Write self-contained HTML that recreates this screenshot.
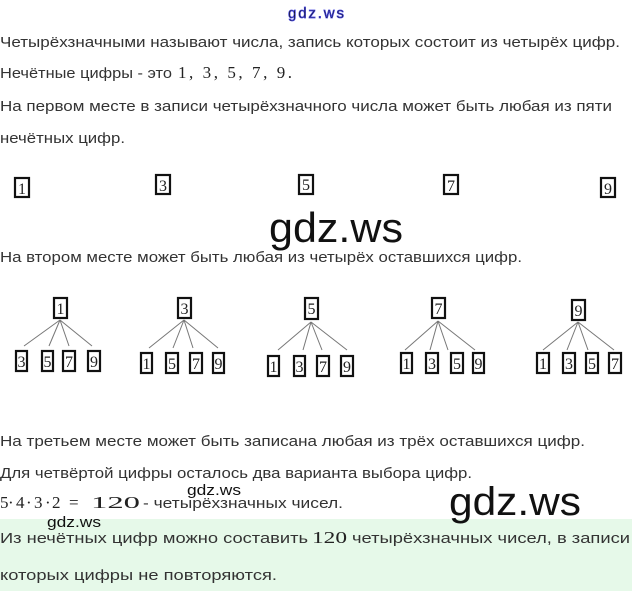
<!DOCTYPE html>
<html><head><meta charset="utf-8"><style>
html,body{margin:0;padding:0;background:#fff;width:632px;height:591px;overflow:hidden}
svg{display:block}
.t{font-family:"Liberation Sans",sans-serif;font-size:15px;fill:#333}
.m{font-family:"Liberation Serif",serif;font-size:17px;fill:#222}
.b{fill:#fff;stroke:#111;stroke-width:2.2}
.d{font-family:"Liberation Serif",serif;font-size:16px;fill:#222;text-anchor:middle}
.l{stroke:#777;stroke-width:1}
.g{font-family:"Liberation Sans","DejaVu Sans",sans-serif;fill:#111}
</style></head><body>
<svg width="632" height="591" viewBox="0 0 632 591" xmlns="http://www.w3.org/2000/svg">
<rect x="0" y="519" width="632" height="72" fill="#e6f9e9"/>
<text x="288" y="18" class="g" font-size="15" fill="#fff" stroke="#4444dd" stroke-width="0.7" textLength="56">gdz.ws</text>
<text x="0" y="47" class="t" textLength="620" lengthAdjust="spacingAndGlyphs">Четырёхзначными называют числа, запись которых состоит из четырёх цифр.</text>
<text x="0" y="78" class="t" textLength="172" lengthAdjust="spacingAndGlyphs">Нечётные цифры - это</text>
<text x="178" y="78" class="m" textLength="114" lengthAdjust="spacing">1, 3, 5, 7, 9.</text>
<text x="0" y="111" class="t" textLength="612" lengthAdjust="spacingAndGlyphs">На первом месте в записи четырёхзначного числа может быть любая из пяти</text>
<text x="0" y="143" class="t" textLength="125" lengthAdjust="spacingAndGlyphs">нечётных цифр.</text>
<g>
<rect class="b" x="15" y="178" width="14" height="19"/><text class="d" x="22" y="194">1</text>
<rect class="b" x="156" y="175" width="14" height="19"/><text class="d" x="163" y="191">3</text>
<rect class="b" x="299" y="175" width="14" height="19"/><text class="d" x="306" y="190">5</text>
<rect class="b" x="444" y="175" width="14" height="19"/><text class="d" x="451" y="191">7</text>
<rect class="b" x="601" y="178" width="14" height="19"/><text class="d" x="608" y="194">9</text>
</g>
<text x="269" y="242" class="g" font-size="42" textLength="134" lengthAdjust="spacingAndGlyphs">gdz.ws</text>
<text x="0" y="262" class="t" textLength="522" lengthAdjust="spacingAndGlyphs">На втором месте может быть любая из четырёх оставшихся цифр.</text>
<g>
<rect class="b" x="54" y="298" width="13" height="20"/><text class="d" x="60.5" y="314">1</text>
<line class="l" x1="60" y1="320" x2="24" y2="346"/><line class="l" x1="60" y1="320" x2="49" y2="346"/><line class="l" x1="60" y1="320" x2="69" y2="346"/><line class="l" x1="60" y1="320" x2="92" y2="346"/>
<rect class="b" x="16" y="351" width="11" height="20"/><text class="d" x="21.5" y="367">3</text>
<rect class="b" x="42" y="351" width="11" height="20"/><text class="d" x="47.5" y="367">5</text>
<rect class="b" x="63" y="351" width="12" height="20"/><text class="d" x="69" y="367">7</text>
<rect class="b" x="88" y="351" width="12" height="20"/><text class="d" x="94" y="367">9</text>
<rect class="b" x="178" y="298" width="13" height="20"/><text class="d" x="184.5" y="314">3</text>
<line class="l" x1="184" y1="320" x2="149" y2="348"/><line class="l" x1="184" y1="320" x2="173" y2="348"/><line class="l" x1="184" y1="320" x2="193" y2="348"/><line class="l" x1="184" y1="320" x2="218" y2="348"/>
<rect class="b" x="141" y="353" width="11" height="20"/><text class="d" x="146.5" y="369">1</text>
<rect class="b" x="166" y="353" width="12" height="20"/><text class="d" x="172" y="369">5</text>
<rect class="b" x="190" y="353" width="12" height="20"/><text class="d" x="196" y="369">7</text>
<rect class="b" x="213" y="353" width="11" height="20"/><text class="d" x="218.5" y="369">9</text>
<rect class="b" x="305" y="298" width="13" height="21"/><text class="d" x="311.5" y="314">5</text>
<line class="l" x1="311" y1="322" x2="278" y2="350"/><line class="l" x1="311" y1="322" x2="303" y2="350"/><line class="l" x1="311" y1="322" x2="322" y2="350"/><line class="l" x1="311" y1="322" x2="347" y2="350"/>
<rect class="b" x="268" y="356" width="11" height="20"/><text class="d" x="273.5" y="372">1</text>
<rect class="b" x="294" y="356" width="11" height="20"/><text class="d" x="299.5" y="372">3</text>
<rect class="b" x="317" y="356" width="12" height="20"/><text class="d" x="323" y="372">7</text>
<rect class="b" x="341" y="356" width="12" height="20"/><text class="d" x="347" y="372">9</text>
<rect class="b" x="432" y="298" width="13" height="20"/><text class="d" x="438.5" y="314">7</text>
<line class="l" x1="438" y1="321" x2="405" y2="350"/><line class="l" x1="438" y1="321" x2="430" y2="350"/><line class="l" x1="438" y1="321" x2="448" y2="350"/><line class="l" x1="438" y1="321" x2="475" y2="350"/>
<rect class="b" x="401" y="353" width="11" height="20"/><text class="d" x="406.5" y="369">1</text>
<rect class="b" x="426" y="353" width="12" height="20"/><text class="d" x="432" y="369">3</text>
<rect class="b" x="451" y="353" width="12" height="20"/><text class="d" x="457" y="369">5</text>
<rect class="b" x="473" y="353" width="11" height="20"/><text class="d" x="478.5" y="369">9</text>
<rect class="b" x="572" y="300" width="13" height="20"/><text class="d" x="578.5" y="316">9</text>
<line class="l" x1="578" y1="322" x2="543" y2="350"/><line class="l" x1="578" y1="322" x2="567" y2="350"/><line class="l" x1="578" y1="322" x2="588" y2="350"/><line class="l" x1="578" y1="322" x2="614" y2="350"/>
<rect class="b" x="537" y="353" width="12" height="20"/><text class="d" x="543" y="369">1</text>
<rect class="b" x="563" y="353" width="12" height="20"/><text class="d" x="569" y="369">3</text>
<rect class="b" x="586" y="353" width="12" height="20"/><text class="d" x="592" y="369">5</text>
<rect class="b" x="609" y="353" width="12" height="20"/><text class="d" x="615" y="369">7</text>
</g>
<text x="0" y="446" class="t" textLength="585" lengthAdjust="spacingAndGlyphs">На третьем месте может быть записана любая из трёх оставшихся цифр.</text>
<text x="0" y="478" class="t" textLength="472" lengthAdjust="spacingAndGlyphs">Для четвёртой цифры осталось два варианта выбора цифр.</text>
<text x="187" y="495" class="g" font-size="15" textLength="54" lengthAdjust="spacingAndGlyphs">gdz.ws</text>
<g class="m" font-size="18">
<text x="0" y="508">5</text><text x="8" y="508">·</text><text x="16" y="508">4</text><text x="26" y="508">·</text><text x="34" y="508">3</text><text x="45" y="508">·</text><text x="52" y="508">2</text><text x="69" y="508">=</text><text x="91" y="508" textLength="49" lengthAdjust="spacingAndGlyphs">120</text>
</g>
<text x="143" y="508" class="t" textLength="200" lengthAdjust="spacingAndGlyphs">- четырёхзначных чисел.</text>
<text x="449" y="515" class="g" font-size="40" textLength="132" lengthAdjust="spacingAndGlyphs">gdz.ws</text>
<text x="47" y="527" class="g" font-size="15" textLength="54" lengthAdjust="spacingAndGlyphs">gdz.ws</text>
<text x="0" y="543" class="t" textLength="308" lengthAdjust="spacingAndGlyphs">Из нечётных цифр можно составить</text>
<text x="312" y="543" class="m" font-size="19" textLength="35" lengthAdjust="spacingAndGlyphs">120</text>
<text x="352" y="543" class="t" textLength="278" lengthAdjust="spacingAndGlyphs">четырёхзначных чисел, в записи</text>
<text x="0" y="580" class="t" textLength="277" lengthAdjust="spacingAndGlyphs">которых цифры не повторяются.</text>
</svg>
</body></html>
